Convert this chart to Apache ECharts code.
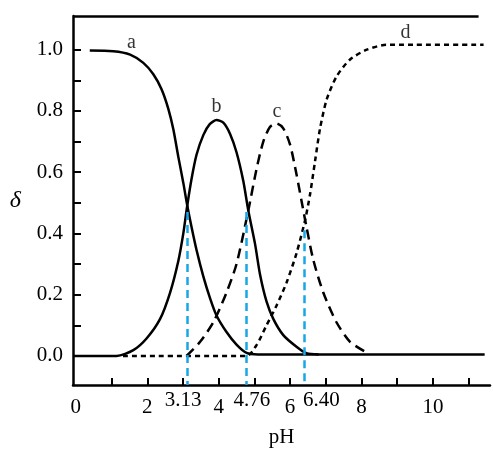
<!DOCTYPE html>
<html>
<head>
<meta charset="utf-8">
<script src="https://cdn.jsdelivr.net/npm/echarts@6/dist/echarts.min.js"></script>
<style>
  html, body { margin: 0; padding: 0; background: #fff; }
  #chart { width: 493px; height: 453px; }
</style>
</head>
<body>
<div id="chart"></div>
<script>
//  分布系数曲线 (pH, δ)
const curveA = [[0.39, 0.997], [1.05, 0.995], [1.52, 0.984], [1.89, 0.957], [2.17, 0.92], [2.4, 0.871],
    [2.59, 0.807], [2.73, 0.74], [2.87, 0.65], [3.01, 0.565], [3.12, 0.491], [3.24, 0.421], [3.38, 0.346],
    [3.57, 0.26], [3.76, 0.188], [3.94, 0.132], [4.22, 0.078], [4.5, 0.037], [4.78, 0.01], [5.1, 0.005],
    [11.45, 0.005]];
const curveB = [[-0.08, 0], [1.14, 0], [1.61, 0.019], [1.98, 0.057], [2.36, 0.121], [2.64, 0.207],
    [2.87, 0.31], [3.01, 0.4], [3.12, 0.491], [3.24, 0.578], [3.38, 0.657], [3.57, 0.721], [3.75, 0.757],
    [3.94, 0.77], [4.13, 0.762], [4.32, 0.725], [4.5, 0.665], [4.69, 0.571], [4.83, 0.475], [5.02, 0.365],
    [5.16, 0.265], [5.34, 0.178], [5.53, 0.121], [5.81, 0.068], [6.18, 0.03], [6.46, 0.009], [6.8, 0.005]];
const curveC = [[3.1, 0], [3.48, 0.046], [3.85, 0.11], [4.22, 0.207], [4.5, 0.3], [4.83, 0.475],
    [5.06, 0.61], [5.25, 0.7], [5.44, 0.748], [5.62, 0.759], [5.81, 0.743], [6.0, 0.69], [6.18, 0.593],
    [6.32, 0.507], [6.46, 0.421], [6.65, 0.314], [6.93, 0.207], [7.3, 0.11], [7.68, 0.046], [8.1, 0.014]];
const curveD = [[1.32, 0], [4.78, 0], [5.06, 0.035], [5.34, 0.1], [5.62, 0.164], [5.9, 0.239], [6.18, 0.335],
    [6.42, 0.443], [6.56, 0.528], [6.7, 0.636], [6.84, 0.743], [7.03, 0.839], [7.31, 0.914], [7.68, 0.968],
    [8.15, 1.0], [8.7, 1.016], [9.17, 1.016], [11.42, 1.016]];
//  曲线标注
const curveNames = ['a', 'b', 'c', 'd'];
const namePos = [[1.56, 1.022], [3.94, 0.813], [5.63, 0.797], [9.23, 1.055]];
//  pKa 虚线
const pKa = [3.13, 4.76, 6.40];
const pKaTop = [0.47, 0.47, 0.41];
//  坐标刻度
const xTicks = [1, 2, 3, 4, 5, 6, 7, 8, 9, 10, 11];
const xLabels = [0, 2, 4, 6, 8, 10];
const yTicks = [0, 0.1, 0.2, 0.3, 0.4, 0.5, 0.6, 0.7, 0.8, 0.9, 1.0];
const yLabels = [0, 0.2, 0.4, 0.6, 0.8, 1.0];

const serif = 'Liberation Serif';
const blue = '#18a7e6';
const X_MIN = -0.08, X_MAX = 11.6, Y_MIN = -0.095, Y_MAX = 1.11;

const myChart = echarts.init(document.getElementById('chart'));

const lineCommon = {
    type: 'line',
    smooth: 0.25,
    symbol: 'none',
    silent: true,
};

myChart.setOption({
    animation: false,
    grid: {left: 73, right: 3, top: 16, bottom: 63},
    xAxis: [
        {
            type: 'value',
            min: X_MIN,
            max: X_MAX,
            name: 'pH',
            nameLocation: 'middle',
            nameGap: 42,
            nameTextStyle: {fontFamily: serif, fontSize: 21, color: '#000'},
            splitLine: {show: false},
            axisLine: {onZero: false, lineStyle: {color: '#000', width: 2.5}},
            axisTick: {inside: true, length: 7, customValues: xTicks, lineStyle: {color: '#000', width: 2}},
            axisLabel: {
                customValues: xLabels, margin: 12,
                fontFamily: serif, fontSize: 21, color: '#000',
            },
        },
        {
            //  pKa 数值标签
            type: 'value',
            position: 'bottom',
            min: X_MIN,
            max: X_MAX,
            splitLine: {show: false},
            axisLine: {show: false, onZero: false},
            axisTick: {show: false},
            axisLabel: {
                customValues: pKa, margin: 5,
                fontFamily: serif, fontSize: 21, color: '#000',
                formatter: function (v) {
                    const i = pKa.indexOf(v);
                    return '{p' + i + '|' + v.toFixed(2) + '}';
                },
                rich: {
                    p0: {fontFamily: serif, fontSize: 21, color: '#000', padding: [0, 9, 0, 0]},
                    p1: {fontFamily: serif, fontSize: 21, color: '#000', padding: [0, 0, 0, 12]},
                    p2: {fontFamily: serif, fontSize: 21, color: '#000', padding: [0, 0, 0, 34]},
                },
            },
        },
    ],
    yAxis: {
        type: 'value',
        min: Y_MIN,
        max: Y_MAX,
        name: 'δ',
        nameLocation: 'middle',
        nameRotate: 0,
        nameGap: 52,
        nameTextStyle: {fontFamily: serif, fontStyle: 'italic', fontSize: 24, color: '#000'},
        splitLine: {show: false},
        axisLine: {onZero: false, lineStyle: {color: '#000', width: 2.5}},
        axisTick: {inside: true, length: 8, customValues: yTicks, lineStyle: {color: '#000', width: 2}},
        axisLabel: {
            customValues: yLabels, margin: 10,
            fontFamily: serif, fontSize: 21, color: '#000',
            formatter: function (v) {
                return v.toFixed(1);
            },
        },
    },
    series: [
        Object.assign({}, lineCommon, {
            name: 'a',
            data: curveA,
            lineStyle: {color: '#000', width: 2.5},
            clip: false,
            //  顶部边框线
            markLine: {
                silent: true,
                symbol: 'none',
                label: {show: false},
                lineStyle: {color: '#000', width: 2.5, type: 'solid'},
                data: [[{coord: [X_MIN, Y_MAX]}, {coord: [11.28, Y_MAX]}]],
            },
        }),
        Object.assign({}, lineCommon, {
            name: 'b',
            data: curveB,
            lineStyle: {color: '#000', width: 2.5},
        }),
        Object.assign({}, lineCommon, {
            name: 'c',
            data: curveC,
            lineStyle: {color: '#000', width: 2.5, type: [10, 6]},
        }),
        Object.assign({}, lineCommon, {
            name: 'd',
            data: curveD,
            lineStyle: {color: '#000', width: 2.5, type: [5, 4]},
            //  pKa 竖直虚线
            markLine: {
                silent: true,
                symbol: 'none',
                label: {show: false},
                lineStyle: {color: blue, width: 2.5, type: [8, 5]},
                data: pKa.map(function (v, i) {
                    return [{coord: [v, pKaTop[i]]}, {coord: [v, Y_MIN]}];
                }),
            },
        }),
        {
            //  曲线名称
            type: 'scatter',
            symbolSize: 0,
            silent: true,
            data: curveNames.map(function (n, i) {
                return {name: n, value: namePos[i]};
            }),
            label: {
                show: true,
                position: 'inside',
                formatter: '{b}',
                fontFamily: serif,
                fontSize: 20,
                color: '#000',
            },
        },
    ],
});
</script>
</body>
</html>
